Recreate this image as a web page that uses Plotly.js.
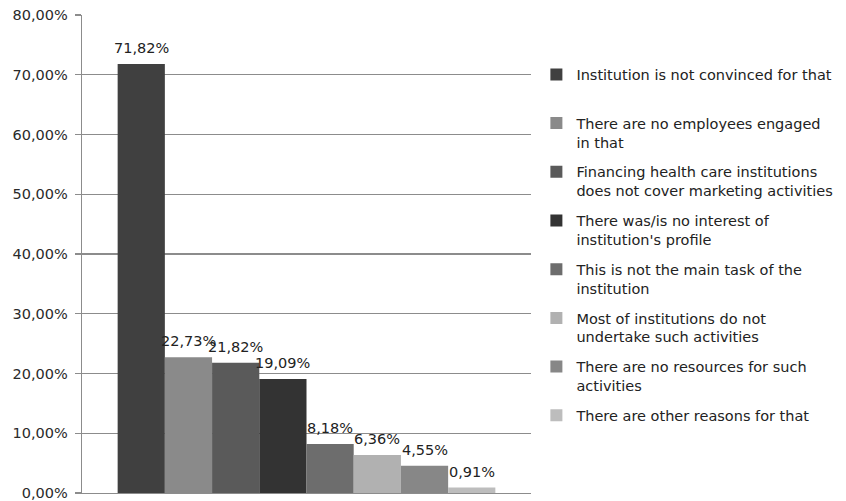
<!DOCTYPE html>
<html>
<head>
<meta charset="utf-8">
<script src="https://cdn.plot.ly/plotly-3.0.1.min.js"></script>
<style>html,body{margin:0;padding:0;background:#fff;}#chart{width:846px;height:501px;}</style>
</head>
<body>
<div id="chart"></div>
<script>
var reasons = [
  "Institution is not convinced for that<br> ",
  "There are no employees engaged<br>in that",
  "Financing health care institutions<br>does not cover marketing activities",
  "There was/is no interest of<br>institution's profile",
  "This is not the main task of the<br>institution",
  "Most of institutions do not<br>undertake such activities",
  "There are no resources for such<br>activities",
  "There are other reasons for that"
];
var shares = [71.82, 22.73, 21.82, 19.09, 8.18, 6.36, 4.55, 0.91];
var labels = ["71,82%", "22,73%", "21,82%", "19,09%", "8,18%", "6,36%", "4,55%", "0,91%"];
var yTicks = [0, 10, 20, 30, 40, 50, 60, 70, 80];
var yTickText = ["0,00%", "10,00%", "20,00%", "30,00%", "40,00%", "50,00%", "60,00%", "70,00%", "80,00%"];

var colors = ["#404040", "#8a8a8a", "#5a5a5a", "#333333", "#6d6d6d", "#b1b1b1", "#878787", "#bdbdbd"];

var traces = shares.map(function (v, i) {
  return {
    type: "bar",
    name: reasons[i],
    x: [i],
    y: [v],
    width: 1,
    marker: { color: colors[i], line: { width: 0 } },
    legendgroup: "g" + i,
    hoverinfo: "none"
  };
});

var annotations = shares.map(function (v, i) {
  return {
    x: i, y: v, xref: "x", yref: "y",
    text: labels[i],
    showarrow: false,
    yanchor: "bottom",
    yshift: 6,
    font: { family: "DejaVu Sans", size: 14.5, color: "#222" }
  };
});

var layout = {
  width: 846, height: 501,
  margin: { l: 82, r: 313, t: 15, b: 8 },
  paper_bgcolor: "#fff", plot_bgcolor: "#fff",
  barmode: "overlay",
  showlegend: true,
  xaxis: {
    range: [-1.255, 8.255],
    showticklabels: false, showgrid: false, zeroline: false,
    showline: true, linecolor: "#8c8c8c", linewidth: 1.3, ticks: "", fixedrange: true
  },
  yaxis: {
    range: [0, 80],
    tickmode: "array",
    tickvals: yTicks,
    ticktext: yTickText,
    showgrid: true, gridcolor: "#8c8c8c", gridwidth: 1.3,
    zeroline: false,
    showline: true, linecolor: "#8c8c8c", linewidth: 1.3,
    ticks: "outside", ticklen: 6, tickcolor: "#8c8c8c", tickwidth: 1.3,
    ticklabelstandoff: 4,
    ticklabeloverflow: "allow",
    tickfont: { family: "DejaVu Sans", size: 14.5, color: "#2a2a2a" },
    fixedrange: true
  },
  legend: {
    x: 1.012, xanchor: "left",
    y: 0.909, yanchor: "top",
    valign: "top",
    tracegroupgap: 8,
    font: { family: "DejaVu Sans", size: 14.5, color: "#222" },
    bgcolor: "rgba(0,0,0,0)"
  },
  annotations: annotations
};

Plotly.newPlot("chart", traces, layout, { displayModeBar: false, staticPlot: true });
</script>
</body>
</html>
